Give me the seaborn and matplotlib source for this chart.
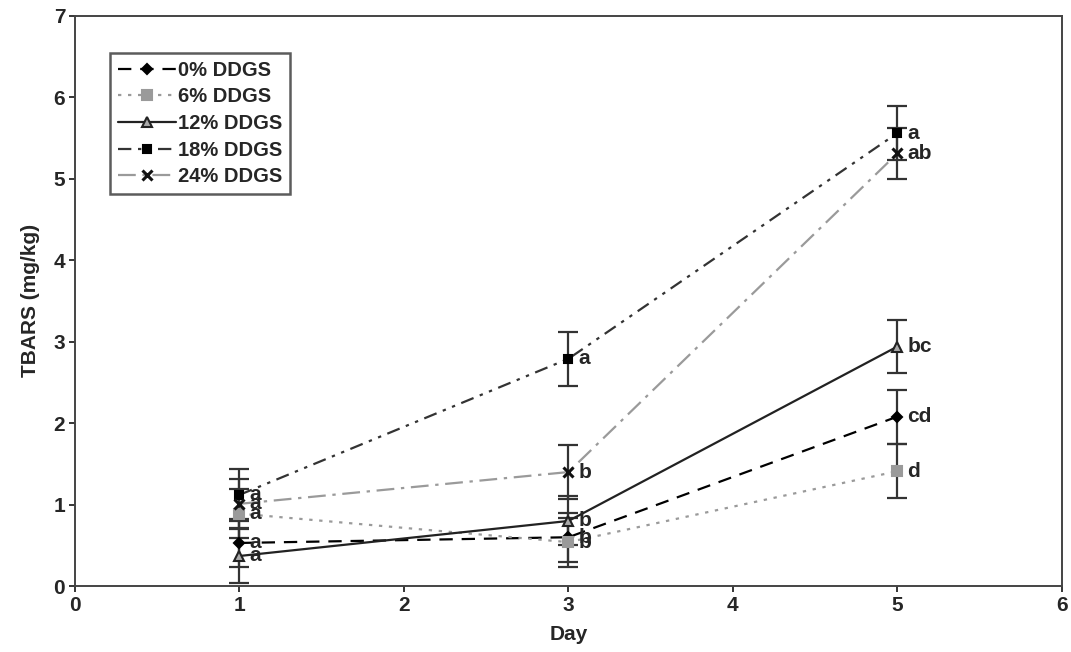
import matplotlib
matplotlib.use("Agg")
import matplotlib.pyplot as plt
import seaborn as sns
import pandas as pd
import numpy as np

days = [1, 3, 5]
series_names = ["0% DDGS", "6% DDGS", "12% DDGS", "18% DDGS", "24% DDGS"]
vals_0 = [0.53, 0.60, 2.08]
vals_6 = [0.89, 0.54, 1.41]
vals_12 = [0.37, 0.80, 2.94]
vals_18 = [1.12, 2.79, 5.56]
vals_24 = [1.01, 1.40, 5.31]
err_0 = [0.30, 0.30, 0.33]
err_6 = [0.30, 0.30, 0.33]
err_12 = [0.33, 0.30, 0.33]
err_18 = [0.32, 0.33, 0.33]
err_24 = [0.30, 0.33, 0.31]
letters_0 = ["a", "b", "cd"]
letters_6 = ["a", "b", "d"]
letters_12 = ["a", "b", "bc"]
letters_18 = ["a", "a", "a"]
letters_24 = ["a", "b", "ab"]

values = [vals_0, vals_6, vals_12, vals_18, vals_24]
errors = [err_0, err_6, err_12, err_18, err_24]
letters = [letters_0, letters_6, letters_12, letters_18, letters_24]

rows = []
for name, v in zip(series_names, values):
    for d, y in zip(days, v):
        rows.append({"Day": d, "TBARS": y, "Treatment": name})
df = pd.DataFrame(rows)

sns.set_style("ticks")
plt.rcParams["font.family"] = ["Liberation Sans", "DejaVu Sans"]
plt.rcParams["font.weight"] = "bold"

fig = plt.figure(figsize=(10.71, 6.52), dpi=100)
ax = fig.add_axes([0.070, 0.101, 0.9215, 0.875])

styles = {
    "0% DDGS": dict(color="black", ls=(0, (6, 4)), marker="D", ms=5, mfc="black", mec="black", mew=1.5),
    "6% DDGS": dict(color="#9a9a9a", ls=(0, (1.5, 3)), marker="s", ms=7, mfc="#9a9a9a", mec="#9a9a9a", mew=1.5),
    "12% DDGS": dict(color="#222222", ls="-", marker="^", ms=7.5, mfc="#aaaaaa", mec="#222222", mew=1.5),
    "18% DDGS": dict(color="#333333", ls=(0, (6, 3, 1.5, 3, 1.5, 3)), marker="s", ms=6, mfc="black", mec="black", mew=1.5),
    "24% DDGS": dict(color="#9a9a9a", ls=(0, (8, 3, 1.5, 3)), marker="x", ms=7, mfc="black", mec="#111111", mew=2.2),
}

for name, v, e in zip(series_names, values, errors):
    ax.errorbar(days, v, yerr=e, fmt="none", ecolor="#333333", elinewidth=1.6,
                capsize=7, capthick=1.6, zorder=2)

for name in series_names:
    st = styles[name]
    sub = df[df["Treatment"] == name]
    sns.lineplot(data=sub, x="Day", y="TBARS", ax=ax, color=st["color"],
                 linestyle=st["ls"], linewidth=1.6, marker=st["marker"],
                 markersize=st["ms"], markerfacecolor=st["mfc"],
                 markeredgecolor=st["mec"], markeredgewidth=st["mew"],
                 label=name, zorder=3)

for v, lt in zip(values, letters):
    for d, y, t in zip(days, v, lt):
        ax.annotate(t, (d, y), xytext=(7, 0), textcoords="offset points",
                    ha="left", va="center", fontsize=15, fontweight="bold")

ax.set_xlim(0, 6)
ax.set_ylim(0, 7)
ax.set_xticks(range(0, 7))
ax.set_yticks(range(0, 8))
ax.set_xlabel("Day", fontsize=15, fontweight="bold", labelpad=7)
ax.set_ylabel("TBARS (mg/kg)", fontsize=15, fontweight="bold", labelpad=10)
ax.tick_params(axis="both", labelsize=15, width=1.3, length=4, pad=3, direction="out")
for lab in ax.get_xticklabels() + ax.get_yticklabels():
    lab.set_fontweight("bold")
for sp in ax.spines.values():
    sp.set_visible(True)
    sp.set_linewidth(1.4)
    sp.set_color("#444444")

leg = ax.legend(loc="upper left", bbox_to_anchor=(0.035, 0.935), frameon=True,
                fancybox=False, edgecolor="#333333", fontsize=14.5, handlelength=2.9,
                handletextpad=0.1, borderpad=0.4, labelspacing=0.38, borderaxespad=0)
leg.get_frame().set_linewidth(1.8)
for t in leg.get_texts():
    t.set_fontweight("bold")

fig.savefig("out.png", dpi=100)
